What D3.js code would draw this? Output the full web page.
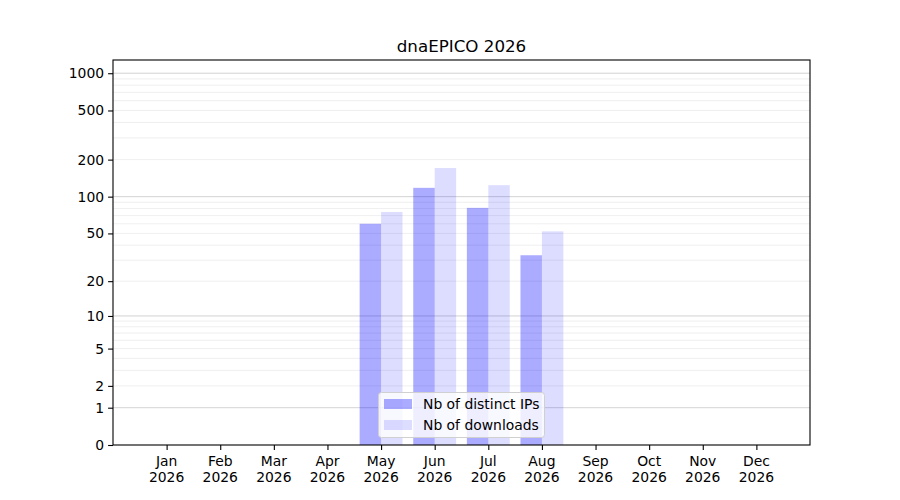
<!DOCTYPE html>
<html><head><meta charset="utf-8">
<script src="https://cdn.jsdelivr.net/npm/d3@7"></script>
<style>body{margin:0;background:#fff}svg{display:block}text{font-family:"DejaVu Sans",sans-serif;fill:#000}</style>
</head><body><svg id="c" width="900" height="500"></svg>
<script>
const title = "dnaEPICO 2026";
const months = ["Jan","Feb","Mar","Apr","May","Jun","Jul","Aug","Sep","Oct","Nov","Dec"];
const yearLabel = "2026";
const distinctIPs = [0,0,0,0,60,118,81,33,0,0,0,0];
const downloads =   [0,0,0,0,75,171,124,52,0,0,0,0];
const seriesNames = ["Nb of distinct IPs","Nb of downloads"];
const yTicks = [0,1,2,5,10,20,50,100,200,500,1000];
const majorGrid = [1,10,100,1000];
const minorGrid = [2,3,4,5,6,7,8,9,20,30,40,50,60,70,80,90,200,300,400,500,600,700,800,900];

const svg = d3.select("#c");
const L=113,R=810,T=60,B=445;
const x = d3.scaleLinear().domain([0,13]).range([L,R]);
const y = d3.scaleSymlog().constant(1).domain([0,1279]).range([B,T]);
const bw = 0.4;

const g = svg.append("g");
// grid
g.selectAll(".mg").data(minorGrid).join("line")
  .attr("x1",L).attr("x2",R).attr("y1",d=>y(d)).attr("y2",d=>y(d))
  .attr("stroke","#ebebeb").attr("stroke-width",0.8);
g.selectAll(".Mg").data(majorGrid).join("line")
  .attr("x1",L).attr("x2",R).attr("y1",d=>y(d)).attr("y2",d=>y(d))
  .attr("stroke","#c8c8c8").attr("stroke-width",0.8);

// bars
g.selectAll(".b1").data(distinctIPs).join("rect")
  .attr("x",(d,i)=>x(i+1-bw)).attr("width",x(bw)-x(0))
  .attr("y",d=>y(d)).attr("height",d=>y(0)-y(d))
  .attr("fill","blue").attr("fill-opacity",0.33);
g.selectAll(".b2").data(downloads).join("rect")
  .attr("x",(d,i)=>x(i+1)).attr("width",x(bw)-x(0))
  .attr("y",d=>y(d)).attr("height",d=>y(0)-y(d))
  .attr("fill","blue").attr("fill-opacity",0.135);

// frame
svg.append("rect").attr("x",L).attr("y",T).attr("width",R-L).attr("height",B-T)
  .attr("fill","none").attr("stroke","#000").attr("stroke-width",1.1);

// y axis
const yAxis = d3.axisLeft(y).tickValues(yTicks).tickFormat(d3.format("d")).tickSize(4.9).tickPadding(4);
const ya = svg.append("g").attr("transform",`translate(${L},0)`).call(yAxis);
ya.select(".domain").remove();
ya.selectAll("line").attr("stroke","#000").attr("stroke-width",1.1);
ya.selectAll("text").attr("font-size","13.9px").attr("font-family","DejaVu Sans").attr("fill","#000");

// x axis
const xAxis = d3.axisBottom(x).tickValues(d3.range(1,13)).tickFormat("").tickSize(4.9);
const xa = svg.append("g").attr("transform",`translate(0,${B})`).call(xAxis);
xa.select(".domain").remove();
xa.selectAll("line").attr("stroke","#000").attr("stroke-width",1.1);
const lab = svg.append("g");
months.forEach((m,i)=>{
  const t = lab.append("text").attr("x",x(i+1)).attr("text-anchor","middle").attr("font-size","13.9px");
  t.append("tspan").attr("x",x(i+1)).attr("y",466).text(m);
  t.append("tspan").attr("x",x(i+1)).attr("y",482).text(yearLabel);
});

// title
svg.append("text").attr("x",(L+R)/2).attr("y",52).attr("text-anchor","middle")
  .attr("font-size","16.7px").text(title);

// legend
const lg = svg.append("g");
lg.append("rect").attr("x",378.5).attr("y",392.5).attr("width",166).attr("height",45).attr("rx",3)
  .attr("fill","#fff").attr("fill-opacity",0.8).attr("stroke","#d0d0d0").attr("stroke-width",1);
const ops=[0.33,0.135];
seriesNames.forEach((s,i)=>{
  lg.append("rect").attr("x",384).attr("y",399+i*21).attr("width",28).attr("height",10)
    .attr("fill","blue").attr("fill-opacity",ops[i]);
  lg.append("text").attr("x",423).attr("y",409+i*21).attr("font-size","13.9px").text(s);
});
</script></body></html>
